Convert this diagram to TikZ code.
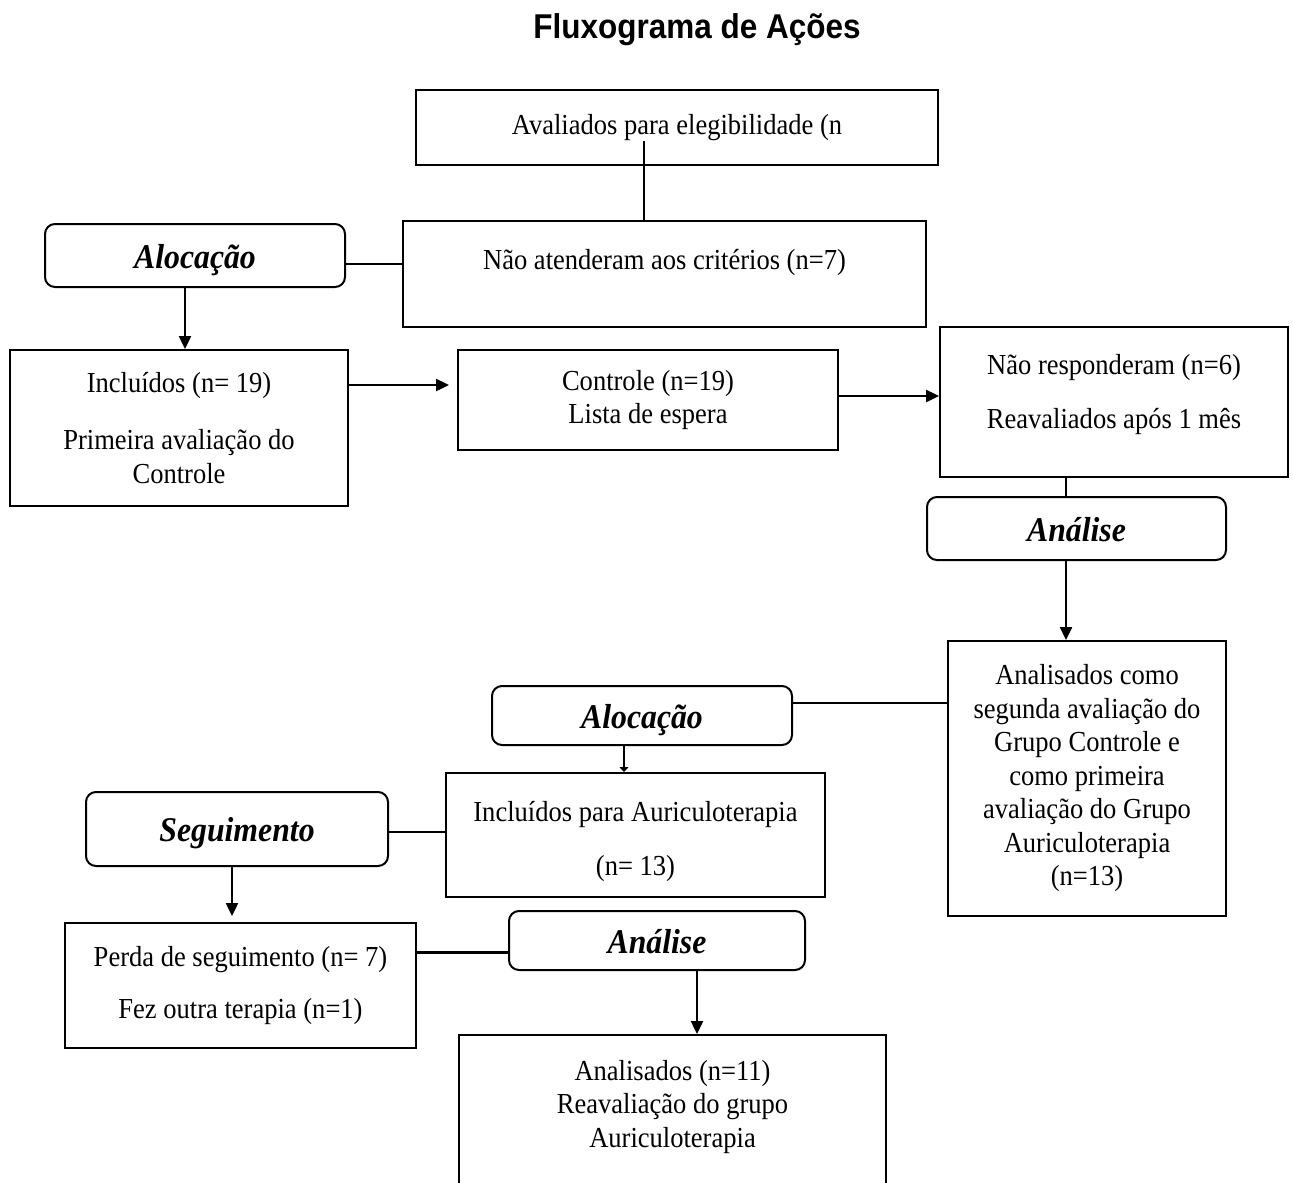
\documentclass[tikz,border=0pt]{standalone}
\usepackage{fontspec}
\setmainfont{Liberation Serif}[FakeStretch=0.915]
\newfontfamily\titlefont{Liberation Sans}[FakeStretch=0.915]
\usetikzlibrary{arrows.meta}

\begin{document}
\begin{tikzpicture}[x=1pt,y=-1pt,>={Triangle[length=13pt,width=12pt]},
		box/.style={draw,line width=2pt,inner sep=0pt,align=center,font=\fontsize{29}{33.5}\selectfont},
		stage/.style={box,rounded corners=10pt,text height=28pt,text depth=3pt,font=\bfseries\itshape\fontsize{34.7}{40}\selectfont},
		conn/.style={line width=2.4pt}]
		\useasboundingbox (0,0) rectangle (1293,1183);
		\clip (0,0) rectangle (1293,1183);

		% title
		\node (title) at (697,30) {\titlefont\bfseries\fontsize{34.4}{40}\selectfont Fluxograma de Ações};

		% first row: eligibility
		\node[box,minimum width=522pt,minimum height=75pt] (elig) at (677,127.5) {Avaliados para elegibilidade (n};
		\node[box,minimum width=523pt,minimum height=106pt] (naoat) at (664.5,274) {Não atenderam aos critérios (n=7)\\[-5pt]\mbox{}};
		\node[stage,minimum width=300pt,minimum height=63pt] (aloca) at (195,255.5) {Alocação};

		% control group
		\node[box,minimum width=338pt,minimum height=156pt] (incl) at (179,428) {Incluídos (n= 19)\\[23.5pt]Primeira avaliação do\\Controle};
		\node[box,minimum width=380pt,minimum height=100pt] (ctrl) at (648,400) {Controle (n=19)\\Lista de espera};
		\node[box,minimum width=348pt,minimum height=150pt] (naoresp) at (1114,402) {Não responderam (n=6)\\[20.5pt]Reavaliados após 1 mês\\[-13pt]\mbox{}};
		\node[stage,minimum width=299pt,minimum height=63pt] (analisea) at (1076.5,528.5) {Análise};
		\node[box,minimum width=278pt,minimum height=275pt] (analctrl) at (1087,778.5) {Analisados como\\segunda avaliação do\\Grupo Controle e\\como primeira\\avaliação do Grupo\\Auriculoterapia\\(n=13)};

		% auriculotherapy group
		\node[stage,minimum width=300pt,minimum height=59pt] (alocb) at (642,715.5) {Alocação};
		\node[box,minimum width=379pt,minimum height=124pt] (inclaur) at (635.5,835) {\mbox{}\\Incluídos para Auriculoterapia\\[20.5pt](n= 13)};
		\node[stage,minimum width=302pt,minimum height=74pt] (segu) at (237,829) {Seguimento};
		\node[box,minimum width=351pt,minimum height=125pt] (perda) at (240.5,985.5) {Perda de seguimento (n= 7)\\[18.5pt]Fez outra terapia (n=1)};
		\node[stage,minimum width=296pt,minimum height=59pt] (analiseb) at (657,940.5) {Análise};
		\node[box,minimum width=427pt,minimum height=200pt] (analaur) at (672.5,1135) {Analisados (n=11)\\Reavaliação do grupo\\Auriculoterapia\\[29pt]\mbox{}};

		% connectors of the first part
		\draw[conn] ([xshift=-33pt,yshift=25pt]elig.south) -- ([xshift=-33pt]elig.south |- naoat.north);
		\draw[conn] ([yshift=-8.5pt]aloca.east) -- ([yshift=-8.5pt]aloca.east -| naoat.west);
		\draw[conn,->] ([xshift=-10pt]aloca.south) -- ([xshift=-10pt]aloca.south |- incl.north);
		\draw[conn,->,shorten >=8pt] ([yshift=43pt]incl.east) -- ([yshift=43pt]incl.east -| ctrl.west);
		\draw[conn,->] ([yshift=4pt]ctrl.east) -- ([yshift=4pt]ctrl.east -| naoresp.west);
		\draw[conn] ([xshift=-48pt]naoresp.south) -- ([xshift=-48pt]naoresp.south |- analisea.north);
		\draw[conn,->] ([xshift=-10.5pt]analisea.south) -- ([xshift=-10.5pt]analisea.south |- analctrl.north);

		% connectors of the second part
		\draw[conn] ([yshift=12.5pt]alocb.east) -- ([yshift=12.5pt]alocb.east -| analctrl.west);
		\draw[conn,-{Triangle[length=5pt,width=9pt]}] ([xshift=-18pt]alocb.south) -- ([xshift=-18pt]alocb.south |- inclaur.north);
		\draw[conn] ([yshift=-3pt]segu.east) -- ([yshift=-3pt]segu.east -| inclaur.west);
		\draw[conn,->,shorten >=6pt] ([xshift=-5pt]segu.south) -- ([xshift=-5pt]segu.south |- perda.north);
		\draw[conn] ([yshift=33pt]perda.east) -- ([yshift=33pt]perda.east -| analiseb.west);
		\draw[conn,->] ([xshift=40pt]analiseb.south) -- ([xshift=40pt]analiseb.south |- analaur.north);
\end{tikzpicture}
\end{document}
